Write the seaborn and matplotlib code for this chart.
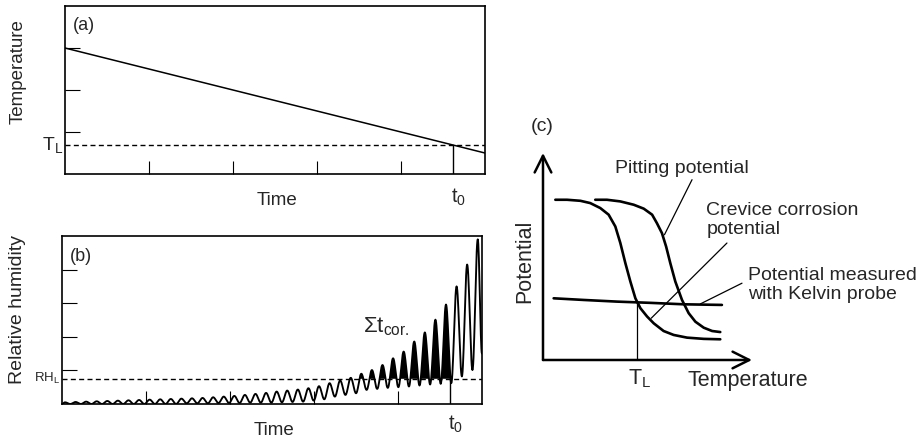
import numpy as np
import seaborn as sns
import matplotlib.pyplot as plt

# (a) temperature falling with time
time_a = [0.0, 5.0]
temp_a = [3.0, 0.5]
T_L_a = 0.69
t0 = 4.62

# (b) relative humidity: peak and trough of each daily cycle
rh_peaks = [0.05, 0.06, 0.07, 0.08, 0.09, 0.10, 0.11, 0.12,
            0.13, 0.14, 0.15, 0.16, 0.17, 0.18, 0.20, 0.22,
            0.24, 0.27, 0.30, 0.33, 0.37, 0.40, 0.43, 0.47,
            0.53, 0.62, 0.70, 0.78, 0.90, 1.01, 1.16,
            1.36, 1.56, 1.86, 2.13, 2.51, 2.96, 3.50, 4.15, 4.90]
rh_troughs = [0.0, 0.0, 0.0, 0.0, 0.0, 0.0, 0.0, 0.0, 0.0, 0.0, 0.0,
              0.02, 0.02, 0.02, 0.03, 0.03, 0.03, 0.04, 0.04, 0.04, 0.05, 0.06,
              0.07, 0.10, 0.14, 0.22, 0.27, 0.32, 0.42, 0.45, 0.48,
              0.50, 0.52, 0.55, 0.58, 0.60, 0.62, 0.82, 1.01,
              1.50]
RH_L = 0.75

# (c) potential vs temperature
crev_T = [0.59, 1.15, 1.79, 2.26, 2.74, 3.14, 3.46, 3.70, 3.94, 4.18, 4.42,
          4.66, 4.98, 5.30, 5.77, 6.25, 6.89, 7.69, 8.48]
crev_E = [7.74, 7.74, 7.69, 7.58, 7.34, 7.02, 6.45, 5.65, 4.68, 3.79, 2.98,
          2.50, 2.10, 1.77, 1.40, 1.21, 1.08, 1.02, 1.00]
pit_T = [2.50, 3.06, 3.70, 4.34, 4.82, 5.22, 5.45, 5.69, 5.89, 6.09, 6.33,
         6.65, 6.97, 7.29, 7.69, 8.09, 8.48]
pit_E = [7.74, 7.74, 7.66, 7.50, 7.31, 7.02, 6.61, 6.13, 5.48, 4.68, 3.79,
         2.90, 2.26, 1.85, 1.56, 1.40, 1.35]
kelvin_T = [0.51, 1.95, 3.54, 5.14, 6.73, 8.56]
kelvin_E = [2.98, 2.90, 2.82, 2.76, 2.69, 2.66]
T_L_c = 4.5
E_at_TL = 2.79

sns.set_theme(style="white")
plt.rcParams['font.family'] = ['Liberation Sans', 'DejaVu Sans']
plt.rcParams['mathtext.fontset'] = 'custom'
plt.rcParams['mathtext.rm'] = 'Liberation Sans'
plt.rcParams['mathtext.it'] = 'Liberation Sans'

fig = plt.figure(figsize=(9.18, 4.41), dpi=100)
ax_a = fig.add_axes([0.0708, 0.6054, 0.4575, 0.381])
ax_b = fig.add_axes([0.0675, 0.0839, 0.4575, 0.381])
ax_c = fig.add_axes([0.5915, 0.1837, 0.2277, 0.4694])

dash = (0, (3.6, 2.4))

# ---------- panel (a)
sns.lineplot(x=time_a, y=temp_a, ax=ax_a, color='black', lw=1.1)
ax_a.axhline(T_L_a, color='black', lw=1.0, ls=dash)
ax_a.plot([t0, t0], [0, T_L_a], color='black', lw=1.0)
ax_a.set_xlim(0, 5)
ax_a.set_ylim(0, 4)

# ---------- panel (b)
n = len(rh_peaks)
peak_t = np.linspace(0.036, 4.95, n)
trough_t = np.append(peak_t[:-1] + 0.063, 5.0)
ext_t = [0.0]
ext_v = [0.0]
for k in range(n):
    ext_t += [peak_t[k], trough_t[k]]
    ext_v += [rh_peaks[k], rh_troughs[k]]
s = np.linspace(0, 1, 16)[:-1]
wave_t, wave_v = [], []
for i in range(len(ext_t) - 1):
    wave_t.extend(ext_t[i] + (ext_t[i + 1] - ext_t[i]) * s)
    wave_v.extend(ext_v[i] + (ext_v[i + 1] - ext_v[i]) * (1 - np.cos(np.pi * s)) / 2)
wave_t.append(ext_t[-1])
wave_v.append(ext_v[-1])
wave_t = np.array(wave_t)
wave_v = np.array(wave_v)

ax_b.axhline(RH_L, color='black', lw=1.0, ls=dash)
ax_b.fill_between(wave_t, RH_L, wave_v, where=(wave_v > RH_L) & (wave_t <= t0),
                  interpolate=True, color='black', lw=0)
sns.lineplot(x=wave_t, y=wave_v, ax=ax_b, color='black', lw=1.35,
             estimator=None, sort=False)
ax_b.plot([t0, t0], [0, RH_L], color='black', lw=1.0)
ax_b.set_xlim(0, 5)
ax_b.set_ylim(0, 5)

for ax, yt in [(ax_a, [1, 2, 3]), (ax_b, [1, 2, 3, 4])]:
    ax.set_xticks([1, 2, 3, 4])
    ax.set_yticks(yt)
    ax.tick_params(axis='x', direction='in', length=9.5, width=0.8,
                   color='black', labelbottom=False, bottom=True)
    ax.tick_params(axis='y', direction='in', length=11, width=0.8,
                   color='black', labelleft=False, left=True)
    for sp in ax.spines.values():
        sp.set_color('black')
        sp.set_linewidth(1.2)
    ax.set_xlabel('')
    ax.set_ylabel('')

ax_a.text(0.019, 0.935, '(a)', transform=ax_a.transAxes, fontsize=13, va='top')
ax_a.text(-0.112, 0.607, 'Temperature', transform=ax_a.transAxes, fontsize=13.5,
          rotation=90, ha='center', va='center')
ax_a.text(-0.005, T_L_a, 'T$_{\\rm L}$', transform=ax_a.get_yaxis_transform(),
          fontsize=14, ha='right', va='center')
ax_a.text(0.505, -0.155, 'Time', transform=ax_a.transAxes, fontsize=13.5,
          ha='center', va='center')
ax_a.text(t0 + 0.07, -0.137, 't$_{\\rm 0}$', transform=ax_a.get_xaxis_transform(),
          fontsize=14.5, ha='center', va='center')

ax_b.text(0.019, 0.93, '(b)', transform=ax_b.transAxes, fontsize=13, va='top')
ax_b.text(-0.105, 0.56, 'Relative humidity', transform=ax_b.transAxes, fontsize=14,
          rotation=90, ha='center', va='center')
ax_b.text(-0.005, RH_L, 'RH$_{\\rm L}$', transform=ax_b.get_yaxis_transform(),
          fontsize=9.5, ha='right', va='center')
ax_b.text(0.505, -0.155, 'Time', transform=ax_b.transAxes, fontsize=13.5,
          ha='center', va='center')
ax_b.text(t0 + 0.07, -0.12, 't$_{\\rm 0}$', transform=ax_b.get_xaxis_transform(),
          fontsize=14.5, ha='center', va='center')
ax_b.text(3.58, 2.3, 'Σt$_{\\rm cor.}$', fontsize=16, ha='left', va='center')

# ---------- panel (c)
sns.lineplot(x=crev_T, y=crev_E, ax=ax_c, color='black', lw=1.9, estimator=None, sort=False)
sns.lineplot(x=pit_T, y=pit_E, ax=ax_c, color='black', lw=1.9, estimator=None, sort=False)
sns.lineplot(x=kelvin_T, y=kelvin_E, ax=ax_c, color='black', lw=1.9, estimator=None, sort=False)
ax_c.plot([T_L_c, T_L_c], [0, E_at_TL], color='black', lw=0.9)
ax_c.set_xlim(0, 10)
ax_c.set_ylim(0, 10)
ax_c.axis('off')

arrow = dict(arrowstyle='->,head_length=0.6,head_width=0.3', lw=1.8, color='black',
             shrinkA=0, shrinkB=0, mutation_scale=20)
ax_c.annotate('', xy=(0, 10), xytext=(0, 0), arrowprops=arrow, annotation_clip=False)
ax_c.annotate('', xy=(10, 0), xytext=(0, 0), arrowprops=arrow, annotation_clip=False)

for (x0, y0), (x1, y1) in [((7.13, 8.71), (5.81, 6.05)),
                           ((8.80, 5.65), (5.18, 2.02)),
                           ((9.52, 3.71), (7.53, 2.71))]:
    ax_c.plot([x0, x1], [y0, y1], color='black', lw=0.9, clip_on=False)

ax_c.text(6.65, 9.27, 'Pitting potential', fontsize=14, ha='center', va='center')
ax_c.text(7.81, 6.77, 'Crevice corrosion\npotential', fontsize=14, ha='left',
          va='center', clip_on=False)
ax_c.text(9.79, 3.63, 'Potential measured\nwith Kelvin probe', fontsize=14, ha='left',
          va='center', clip_on=False)
ax_c.text(4.62, -0.89, 'T$_{\\rm L}$', fontsize=15.5, ha='center', va='center')
ax_c.text(6.89, -0.97, 'Temperature', fontsize=15.5, ha='left', va='center')
ax_c.text(-0.85, 4.76, 'Potential', fontsize=15.5, rotation=90, ha='center', va='center')
ax_c.text(-0.05, 11.29, '(c)', fontsize=14, ha='center', va='center')

fig.savefig('out.png', dpi=100)
